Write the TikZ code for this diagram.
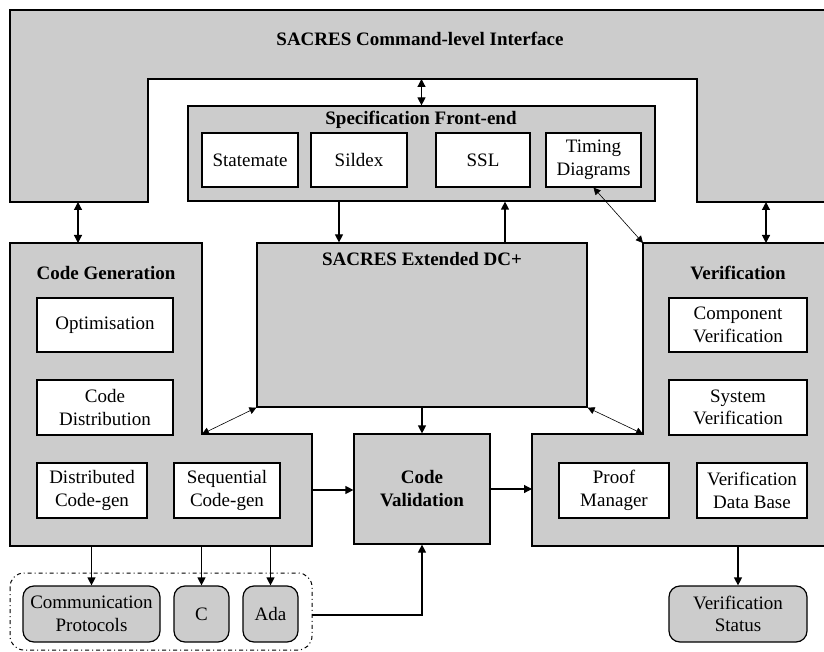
\documentclass[tikz,border=0pt]{standalone}
\usepackage{fontspec}
\setmainfont{Liberation Serif}
\usetikzlibrary{arrows.meta}

\begin{document}
\begin{tikzpicture}[x=1pt,y=-1pt,
  font=\fontsize{19}{22.5}\selectfont,
  greybox/.style={fill=black!20,draw=black,line width=1.2pt,inner sep=0pt},
  box/.style={draw=black,fill=white,line width=1.2pt,inner sep=0pt,align=center,minimum height=54pt},
  pill/.style={greybox,rounded corners=11pt,align=center,minimum height=56pt},
  heading/.style={font=\fontsize{19}{23}\selectfont\bfseries,align=center},
  link/.style={line width=1.2pt,-{Triangle[length=8pt,width=8pt]}},
  twoway/.style={line width=1.2pt,{Triangle[length=8pt,width=8pt]}-{Triangle[length=8pt,width=8pt]}},
  thinlink/.style={line width=0.6pt,{Triangle[length=7pt,width=7pt]}-{Triangle[length=7pt,width=7pt]}},
  group/.style={line width=1pt,rounded corners=14pt,dash pattern=on 4pt off 3pt on 1pt off 3pt}]
  \clip (0,0) rectangle (824,652);

  % command-level interface
  \filldraw[greybox] (10,10) -- (830,10) -- (830,202) -- (697,202) -- (697,79)
    -- (148,79) -- (148,202) -- (10,202) -- cycle;
  \node[heading] (cmd) at (420,39) {SACRES Command-level Interface};
  \coordinate (cmdbar) at (421.5,79);
  \coordinate (cmdl) at (78,202);
  \coordinate (cmdr) at (766,202);

  % specification front-end
  \node[greybox,minimum width=467pt,minimum height=95pt] (spec) at (421.5,153.5) {};
  \node[heading] (spect) at (421,120) {Specification Front-end};
  \foreach \n/\x/\w/\t in {stm/250/96/Statemate, sil/359/96/Sildex, ssl/483/94/SSL,
      tim/593.5/95/{Timing\\Diagrams}}
    \node[box,minimum width=\w pt] (\n) at (\x,160) {\t};

  % code generation
  \filldraw[greybox] (10,243) -- (202,243) -- (202,434) -- (312,434) -- (312,546)
    -- (10,546) -- cycle;
  \node[heading] (cgt) at (106,273) {Code Generation};
  \node[box,minimum width=136pt] (opt) at (105,325) {Optimisation};
  \node[box,minimum width=136pt,minimum height=55pt] (cdist) at (105,407.5) {Code\\Distribution};
  \node[box,minimum width=110pt,minimum height=55pt] (dcg) at (92,490.5) {Distributed\\Code-gen};
  \node[box,minimum width=106pt,minimum height=55pt] (scg) at (227,490.5) {Sequential\\Code-gen};
  \coordinate (cgtop) at (78,243);
  \coordinate (cgnotch) at (202,434);
  \coordinate (cgright) at (312,490);
  \coordinate (cgbase) at (0,546);

  % extended DC+
  \node[greybox,minimum width=330pt,minimum height=164pt] (dc) at (422,325) {};
  \node[heading] (dct) at (422,259) {SACRES Extended DC+};
  \coordinate (dcin) at (339,201);
  \coordinate (dcout) at (505,243);

  % verification
  \filldraw[greybox] (643,243) -- (830,243) -- (830,546) -- (532,546) -- (532,434)
    -- (643,434) -- cycle;
  \node[heading] (vt) at (738,273) {Verification};
  \node[box,minimum width=138pt] (cver) at (738,325) {Component\\Verification};
  \node[box,minimum width=138pt,minimum height=55pt] (sver) at (738,407.5) {System\\Verification};
  \node[box,minimum width=110pt,minimum height=55pt] (pm) at (614,490.5) {Proof\\Manager};
  \node[box,minimum width=110pt,minimum height=55pt] (vdb) at (752,490.5) {Verification\\Data Base};
  \coordinate (vtop) at (766,243);
  \coordinate (vcorner) at (643,243);
  \coordinate (vnotch) at (643,434);
  \coordinate (vstep) at (532,490);
  \coordinate (vbase) at (0,546);

  % code validation
  \node[greybox,heading,minimum width=136pt,minimum height=110pt] (val) at (422,489)
    {Code\\Validation};

  % outputs
  \draw[group] (10,573) rectangle (312,650);
  \coordinate (grp) at (312,615);
  \node[pill,minimum width=137pt] (comm) at (91.5,614) {Communication\\Protocols};
  \node[pill,minimum width=55pt] (c) at (201.5,614) {C};
  \node[pill,minimum width=55pt] (ada) at (270.5,614) {Ada};
  \node[pill,minimum width=138pt] (vstat) at (738,614) {Verification\\Status};

  % connectors
  \draw[twoway] (cmdbar) -- (spec.north);
  \draw[twoway] (cmdl) -- (cgtop);
  \draw[twoway] (cmdr) -- (vtop);
  \draw[link] (dcin) -- (dcin |- dc.north);
  \draw[link] (dcout) -- (dcout |- spec.south);
  \draw[thinlink] (tim.south) -- (vcorner);
  \draw[thinlink] (dc.south west) -- (cgnotch);
  \draw[thinlink] (dc.south east) -- (vnotch);
  \draw[link] (dc.south) -- (val.north);
  \draw[link] (cgright) -- (cgright -| val.west);
  \draw[link] (val.east) -- (val.east -| vstep);
  \foreach \n in {comm,c,ada}
    \draw[link] (\n.north |- cgbase) -- (\n.north);
  \draw[link] (vstat.north |- vbase) -- (vstat.north);
  \draw[link] (grp) -| (val.south);
\end{tikzpicture}
\end{document}
